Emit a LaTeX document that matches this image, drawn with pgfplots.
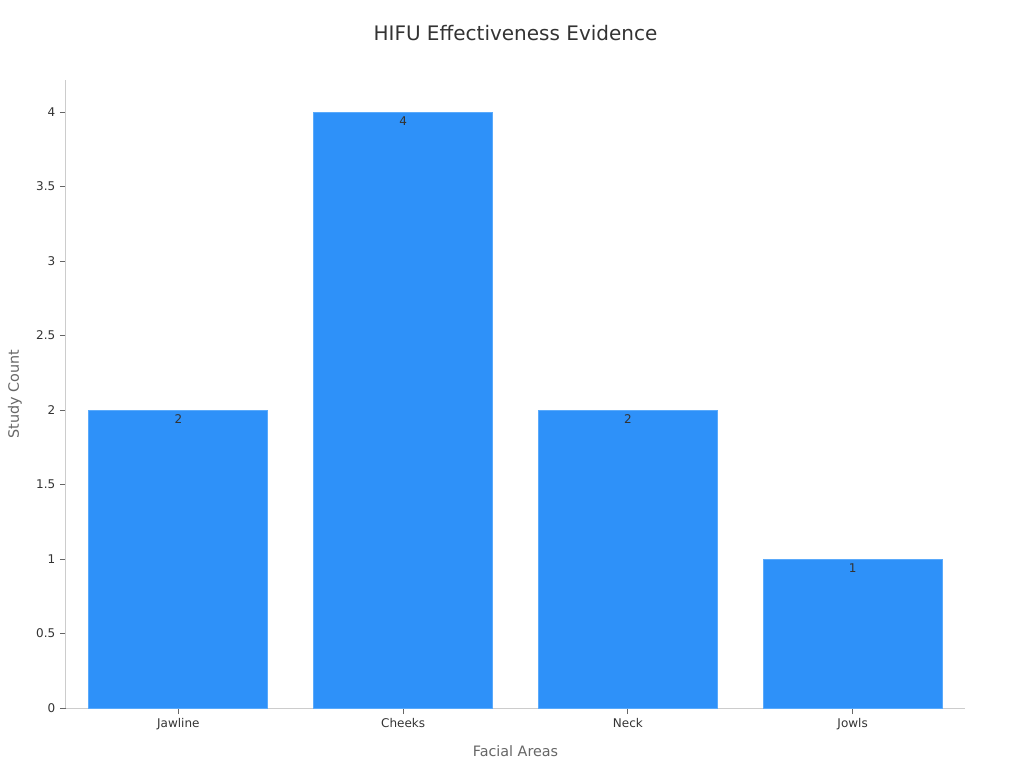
\documentclass[border=0pt]{standalone}
\usepackage{fontspec}
\setmainfont{DejaVu Sans}
\usepackage{pgfplots}
\pgfplotsset{compat=1.18}

\definecolor{barblue}{HTML}{2E91F9}
\definecolor{baredge}{HTML}{5AAAFB}
\definecolor{axisgray}{HTML}{CCCCCC}
\definecolor{textdark}{HTML}{333333}
\definecolor{labelgray}{HTML}{666666}

\begin{document}
\begin{tikzpicture}
\begin{axis}[
    name=ax,
    scale only axis, width=674.25pt, height=471pt,
    ybar, bar width=134.25pt,
    xmin=-0.5, xmax=3.5, ymin=0, ymax=4.215,
    xtick=data,
    xticklabels={Jawline, Cheeks, Neck, Jowls},
    ytick={0,0.5,...,4},
    axis x line*=bottom, axis y line*=left,
    axis line style={axisgray, line width=0.75pt, -},
    tick style={labelgray, line width=0.75pt},
    tick align=outside, major tick length=4.5pt,
    ticklabel style={font=\fontsize{9}{11}\selectfont, text=textdark},
    /pgf/number format/assume math mode=true,
    title={HIFU Effectiveness Evidence},
    title style={at={(rel axis cs:0.5,1.062)}, anchor=center,
        font=\fontsize{15}{18}\selectfont, text=textdark},
    xlabel={Facial Areas},
    xlabel style={at={(rel axis cs:0.5,-0.0685)}, anchor=center,
        font=\fontsize{10.75}{13}\selectfont, text=labelgray},
    ylabel={Study Count},
    ylabel style={at={(rel axis cs:-0.0567,0.5)}, anchor=center, rotate=0,
        font=\fontsize{10.75}{13}\selectfont, text=labelgray},
    nodes near coords,
    nodes near coords style={anchor=center, yshift=-7pt,
        font=\fontsize{9}{11}\selectfont, text=textdark},
]
\addplot[fill=barblue, draw=baredge, line width=0.75pt] coordinates {
    (0,2) (1,4) (2,2) (3,1)
};
\end{axis}
\pgfresetboundingbox
\path[use as bounding box] ([shift={(-49.5pt,-45pt)}]ax.south west) rectangle ++(768pt,576pt);
\end{tikzpicture}
\end{document}
